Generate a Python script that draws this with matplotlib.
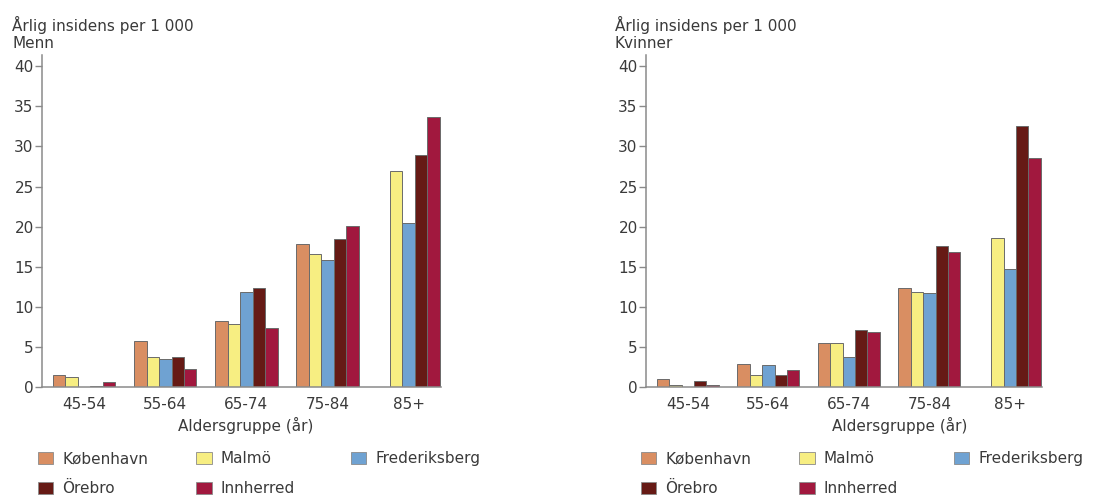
import matplotlib
matplotlib.use("Agg")
import matplotlib.pyplot as plt
import numpy as np
from matplotlib.patches import Patch

plt.rcParams['font.family'] = ['DejaVu Sans']

age_groups = ["45-54", "55-64", "65-74", "75-84", "85+"]
series_names = ["København", "Malmö", "Frederiksberg", "Örebro", "Innherred"]
colors = ["#D98E62", "#F7EE82", "#6FA2D2", "#661A15", "#A1183E"]

men_kobenhavn = [1.45, 5.7, 8.2, 17.8, np.nan]
men_malmo = [1.2, 3.7, 7.9, 16.6, 26.9]
men_frederiksberg = [0.0, 3.5, 11.9, 15.8, 20.4]
men_orebro = [0.1, 3.7, 12.4, 18.4, 28.9]
men_innherred = [0.6, 2.2, 7.3, 20.1, 33.7]

women_kobenhavn = [1.0, 2.9, 5.5, 12.4, np.nan]
women_malmo = [0.2, 1.45, 5.5, 11.9, 18.6]
women_frederiksberg = [0.0, 2.7, 3.7, 11.7, 14.7]
women_orebro = [0.75, 1.45, 7.1, 17.6, 32.5]
women_innherred = [0.25, 2.1, 6.8, 16.8, 28.6]

men = [men_kobenhavn, men_malmo, men_frederiksberg, men_orebro, men_innherred]
women = [women_kobenhavn, women_malmo, women_frederiksberg, women_orebro, women_innherred]

title_text = "Årlig insidens per 1 000"
xlabel_text = "Aldersgruppe (år)"
txtc = "#3a3a3a"
spc = "#8a8a8a"

W, H = 1094, 495
fig = plt.figure(figsize=(W / 100, H / 100), dpi=100)

def fx(px):
    return px / W

def fy(py):
    return 1 - py / H

axL = fig.add_axes([fx(42), fy(387), fx(399), (387 - 55) / H])
axR = fig.add_axes([fx(646), fy(387), fx(396), (387 - 55) / H])

bw = 0.154
x = np.arange(len(age_groups))

leg_kw = dict(loc="upper left", bbox_transform=fig.transFigure, frameon=False,
              fontsize=11, handlelength=1.0, handleheight=0.8, handletextpad=0.6,
              labelspacing=1.0, borderaxespad=0, borderpad=0)

for ax, data, sub, tx, xlx in [(axL, men, "Menn", 12, 246), (axR, women, "Kvinner", 615, 900)]:
    for i, (vals, c) in enumerate(zip(data, colors)):
        ax.bar(x + (i - 2) * bw, vals, width=bw, color=c, edgecolor="#6a6a6a", linewidth=0.7)
    ax.set_xlim(-0.52, 4.4)
    ax.set_ylim(0, 41.4)
    ax.set_yticks(np.arange(0, 41, 5))
    ax.set_xticks(x)
    ax.set_xticklabels(age_groups)
    for s in ["top", "right"]:
        ax.spines[s].set_visible(False)
    for s in ["left", "bottom"]:
        ax.spines[s].set_color(spc)
        ax.spines[s].set_linewidth(1.1)
    ax.tick_params(axis="y", direction="out", length=5, width=1, color=spc, pad=1,
                   labelsize=11, labelcolor=txtc)
    ax.tick_params(axis="x", length=0, pad=7, labelsize=11, labelcolor=txtc)
    fig.text(fx(tx), fy(25), title_text, fontsize=11, color=txtc, ha="left", va="center")
    fig.text(fx(tx), fy(43), sub, fontsize=11, color=txtc, ha="left", va="center")
    fig.text(fx(xlx), fy(425), xlabel_text, fontsize=11, color=txtc, ha="center", va="center")

    handles = [Patch(facecolor=c, edgecolor="#8a8a8a", linewidth=0.6) for c in colors]
    order = [0, 3, 1, 4]
    leg1 = ax.legend([handles[k] for k in order], [series_names[k] for k in order],
                     ncol=2, bbox_to_anchor=(fx(tx + 26), fy(451)), columnspacing=3.15, **leg_kw)
    for t in leg1.get_texts():
        t.set_color(txtc)
    ax.add_artist(leg1)
    leg2 = ax.legend([handles[2]], [series_names[2]], ncol=1,
                     bbox_to_anchor=(fx(tx + 339), fy(451)), **leg_kw)
    for t in leg2.get_texts():
        t.set_color(txtc)

fig.savefig("out.png", dpi=100)
